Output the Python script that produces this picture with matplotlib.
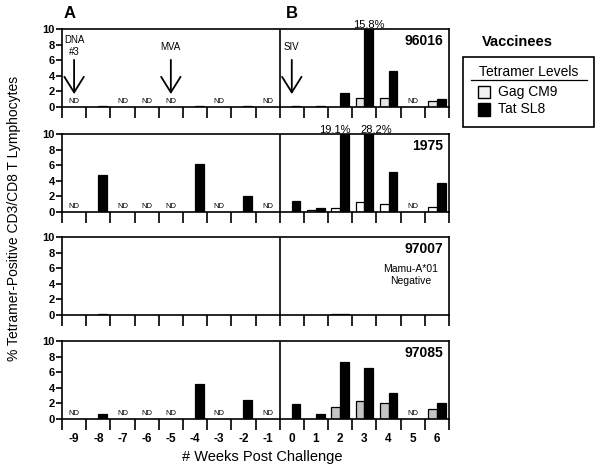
import numpy as np
import matplotlib
matplotlib.use("Agg")
import matplotlib.pyplot as plt
from matplotlib.patches import Rectangle
from matplotlib.lines import Line2D

plt.rcParams['font.family'] = ['Liberation Sans', 'DejaVu Sans']

weeks = list(range(-9, 7))
animals = ['96016', '1975', '97007', '97085']

# Gag CM9 / Tat SL8 tetramer levels (%), None = no bar
gag_96016 = [None, None, None, None, None, None, None, None, None, None, None, None, 1.1, 1.1, None, 0.8]
tat_96016 = [None, 0.15, None, None, None, 0.15, None, 0.12, None, 0.15, 0.1, 1.85, 15.8, 4.65, None, 1.0]
gag_1975 = [None, None, None, None, None, None, None, None, None, None, 0.25, 0.55, 1.25, 1.0, None, 0.7]
tat_1975 = [None, 4.75, None, None, None, 6.1, None, 2.05, None, 1.45, 0.55, 19.1, 28.2, 5.1, None, 3.7]
gag_97007 = [None, None, None, None, None, None, None, None, None, None, None, 0.15, None, None, None, None]
tat_97007 = [None, 0.15, None, None, None, None, None, None, None, None, None, 0.15, None, None, None, None]
gag_97085 = [None, None, None, None, None, None, None, None, None, None, None, 1.5, 2.25, 2.1, None, 1.25]
tat_97085 = [None, 0.7, None, None, None, 4.55, None, 2.4, None, 1.9, 0.7, 7.3, 6.6, 3.3, None, 2.1]

gag_data = [gag_96016, gag_1975, gag_97007, gag_97085]
tat_data = [tat_96016, tat_1975, tat_97007, tat_97085]

nd_weeks = [[-9, -7, -6, -5, -3, -1, 5],
            [-9, -7, -6, -5, -3, -1, 5],
            [],
            [-9, -7, -6, -5, -3, -1, 5]]

# clipped bars get a value label above the panel: (panel, week, text, shift)
offscale = [(0, 3, '15.8%', 0.0), (1, 2, '19.1%', -0.4), (1, 3, '28.2%', 0.3)]

events = [(-9, 'DNA\n#3'), (-5, 'MVA'), (0, 'SIV')]

gag_colors = ['#e4e4e4', 'white', '#d0d0d0', '#c4c4c4']

fig = plt.figure(figsize=(6, 4.7), dpi=100)

left, right = 62 / 600, 449 / 600
tops = [29, 134, 237, 341]
h = 78
bw = 0.36

axes = []
for i in range(4):
    ax = fig.add_axes([left, 1 - (tops[i] + h) / 470, right - left, h / 470])
    axes.append(ax)
    for j, w in enumerate(weeks):
        if gag_data[i][j] is not None:
            ax.bar(w - bw / 2, gag_data[i][j], width=bw, color=gag_colors[i],
                   edgecolor='black', linewidth=0.9)
        if tat_data[i][j] is not None:
            ax.bar(w + bw / 2, tat_data[i][j], width=bw, color='black',
                   edgecolor='black', linewidth=0.9)
    for w in nd_weeks[i]:
        ax.text(w, 0.25, 'ND', ha='center', va='bottom', fontsize=5.5)
    ax.axvline(-0.5, color='black', lw=1.2)
    ax.set_xlim(-9.5, 6.5)
    ax.set_ylim(0, 10)
    ax.set_yticks([0, 2, 4, 6, 8, 10])
    ax.set_yticklabels(['0', '2', '4', '6', '8', '10'], fontsize=8, fontweight='bold')
    ax.set_xticks(np.arange(-9.5, 7, 1))
    ax.set_xticklabels([])
    ax.tick_params(axis='x', direction='out', length=8, width=1.2)
    ax.tick_params(axis='y', direction='out', length=4, width=1.2, pad=1)
    for s in ax.spines.values():
        s.set_linewidth(1.2)
    ax.text(0.985, 0.85, animals[i], transform=ax.transAxes, ha='right', va='center',
            fontsize=10, fontweight='bold')

axes[2].text(4.9, 5.1, 'Mamu-A*01\nNegative', ha='center', va='center', fontsize=7.5,
             linespacing=1.3)

# bottom tick labels at category centres
bx = axes[3]
for w in weeks:
    bx.text(w, -2.6, str(w), ha='center', va='center', fontsize=8.5, fontweight='bold',
            clip_on=False)

for p, w, lab, sh in offscale:
    axes[p].text(w + bw / 2 + sh, 9.9, lab, ha='center', va='bottom', fontsize=8, clip_on=False)

for w, lab in events:
    ax = axes[0]
    ax.annotate('', xy=(w, 1.3), xytext=(w, 6.4),
                arrowprops=dict(arrowstyle='->,head_length=0.8,head_width=0.5',
                                lw=1.3, color='black', mutation_scale=14))
    ax.text(w, 7.7 if '\n' not in lab else 7.8, lab, ha='center', va='center',
            fontsize=7, linespacing=1.2)

fig.text(70 / 600, 1 - 14 / 470, 'A', fontsize=12, fontweight='bold', ha='center', va='center')
fig.text(292 / 600, 1 - 14 / 470, 'B', fontsize=12, fontweight='bold', ha='center', va='center')

fig.text(14 / 600, 1 - 218 / 470, '% Tetramer-Positive CD3/CD8 T Lymphocytes', rotation=90,
         ha='center', va='center', fontsize=10)
fig.text(262 / 600, 1 - 457 / 470, '# Weeks Post Challenge', ha='center', va='center', fontsize=10.5)

# legend block on the right
fig.text(517 / 600, 1 - 42 / 470, 'Vaccinees', ha='center', va='center', fontsize=10.5,
         fontweight='bold')
fig.add_artist(Rectangle((463 / 600, 1 - 127 / 470), 131 / 600, 70 / 470,
                         transform=fig.transFigure, fill=False, lw=1.2, ec='black'))
fig.text(529 / 600, 1 - 72 / 470, 'Tetramer Levels', ha='center', va='center', fontsize=10)
fig.add_artist(Line2D([471 / 600, 587 / 600], [1 - 80 / 470, 1 - 80 / 470],
                      transform=fig.transFigure, color='black', lw=0.9))
fig.add_artist(Rectangle((478 / 600, 1 - 98 / 470), 12 / 600, 12 / 470,
                         transform=fig.transFigure, fc='#f2f2f2', ec='black', lw=1))
fig.add_artist(Rectangle((478 / 600, 1 - 116 / 470), 12 / 600, 13 / 470,
                         transform=fig.transFigure, fc='black', ec='black', lw=1))
fig.text(498 / 600, 1 - 92 / 470, 'Gag CM9', ha='left', va='center', fontsize=10)
fig.text(498 / 600, 1 - 109 / 470, 'Tat SL8', ha='left', va='center', fontsize=10)

fig.savefig('out.png', dpi=100)
